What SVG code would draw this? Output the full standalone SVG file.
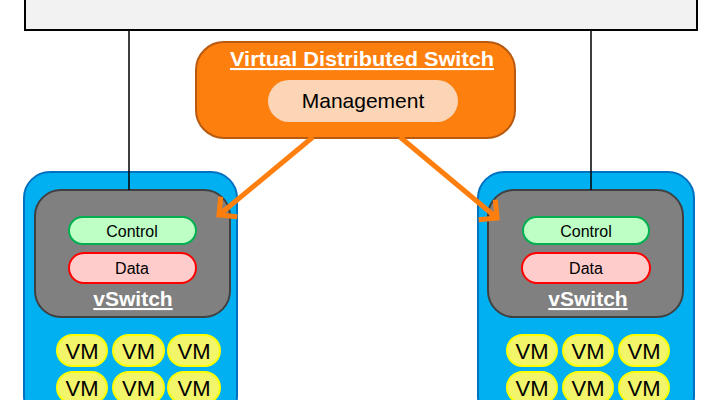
<svg xmlns="http://www.w3.org/2000/svg" width="708" height="400" viewBox="0 0 708 400">
<style>
.host{fill:#00b0f0;stroke:#0070c0;stroke-width:2}
.vsw{fill:#808080;stroke:#404040;stroke-width:2}
.ctl{fill:#bdffc4;stroke:#00b050;stroke-width:2}
.dat{fill:#ffcccc;stroke:#ff0000;stroke-width:2}
.vm{fill:#f2f56a;stroke:#ffff00;stroke-width:2}
.t{font-family:"Liberation Sans",Arial,sans-serif;text-anchor:middle;fill:#000}
.sm{font-size:16px}
.vmt{font-size:22px}
.w{fill:#fff;font-weight:bold;text-decoration:underline}
.wire{stroke:#000;stroke-width:1.5;fill:none}
.arr{stroke:#ff7f0e;stroke-width:5;fill:none}
</style>
<defs>
<marker id="ah" viewBox="-16 -16 20 32" refX="0" refY="0" markerWidth="20" markerHeight="32" markerUnits="userSpaceOnUse" orient="auto">
<path d="M-13,-13 L0,0 L-13,13" stroke="#ff7f0e" stroke-width="5" fill="none"/>
</marker>
</defs>
<g id="physical">
<rect x="25" y="-40" width="672" height="70" fill="#f2f2f2" stroke="#000" stroke-width="2"/>
</g>
<g id="vds">
<rect x="196" y="42" width="319" height="96" rx="28" fill="#fd7f0e" stroke="#b85a10" stroke-width="2"/>
<text class="t w" x="362" y="66" font-size="21" textLength="264" lengthAdjust="spacingAndGlyphs">Virtual Distributed Switch</text>
<rect x="268" y="80" width="190" height="42" rx="21" fill="#fbd5b5"/>
<text class="t" x="363" y="108" font-size="21">Management</text>
</g>
<g id="host1">
<rect class="host" x="24" y="172" width="213" height="250" rx="26"/>
<rect class="vsw" x="35" y="190" width="195" height="127" rx="26"/>
<rect class="ctl" x="69" y="217" width="127" height="27" rx="13.5"/>
<text class="t sm" x="132" y="237">Control</text>
<rect class="dat" x="69" y="253" width="127" height="30" rx="15"/>
<text class="t sm" x="132" y="274">Data</text>
<text class="t w" x="133" y="306" font-size="21">vSwitch</text>
<rect class="vm" x="57" y="335" width="50" height="31" rx="15.5"/>
<text class="t vmt" x="82" y="359">VM</text>
<rect class="vm" x="113" y="335" width="51" height="31" rx="15.5"/>
<text class="t vmt" x="138.5" y="359">VM</text>
<rect class="vm" x="168" y="335" width="52" height="31" rx="15.5"/>
<text class="t vmt" x="194" y="359">VM</text>
<rect class="vm" x="57" y="372" width="50" height="31" rx="15.5"/>
<text class="t vmt" x="82" y="396">VM</text>
<rect class="vm" x="113" y="372" width="51" height="31" rx="15.5"/>
<text class="t vmt" x="138.5" y="396">VM</text>
<rect class="vm" x="168" y="372" width="52" height="31" rx="15.5"/>
<text class="t vmt" x="194" y="396">VM</text>
</g>
<g id="host2">
<rect class="host" x="478" y="172" width="216" height="250" rx="26"/>
<rect class="vsw" x="488" y="190" width="195" height="127" rx="26"/>
<rect class="ctl" x="523" y="217" width="126" height="27" rx="13.5"/>
<text class="t sm" x="586" y="237">Control</text>
<rect class="dat" x="522" y="253" width="128" height="30" rx="15"/>
<text class="t sm" x="586" y="274">Data</text>
<text class="t w" x="588" y="306" font-size="21">vSwitch</text>
<rect class="vm" x="507" y="335" width="50" height="31" rx="15.5"/>
<text class="t vmt" x="532" y="359">VM</text>
<rect class="vm" x="563" y="335" width="50" height="31" rx="15.5"/>
<text class="t vmt" x="588" y="359">VM</text>
<rect class="vm" x="619" y="335" width="50" height="31" rx="15.5"/>
<text class="t vmt" x="644" y="359">VM</text>
<rect class="vm" x="507" y="372" width="50" height="31" rx="15.5"/>
<text class="t vmt" x="532" y="396">VM</text>
<rect class="vm" x="563" y="372" width="50" height="31" rx="15.5"/>
<text class="t vmt" x="588" y="396">VM</text>
<rect class="vm" x="619" y="372" width="50" height="31" rx="15.5"/>
<text class="t vmt" x="644" y="396">VM</text>
</g>
<g id="connectors">
<line class="wire" x1="129" y1="30" x2="129" y2="190"/>
<line class="wire" x1="591" y1="30" x2="591" y2="190"/>
<line class="arr" x1="313" y1="137" x2="219" y2="215" marker-end="url(#ah)"/>
<line class="arr" x1="400" y1="137" x2="497" y2="218" marker-end="url(#ah)"/>
</g>
</svg>
